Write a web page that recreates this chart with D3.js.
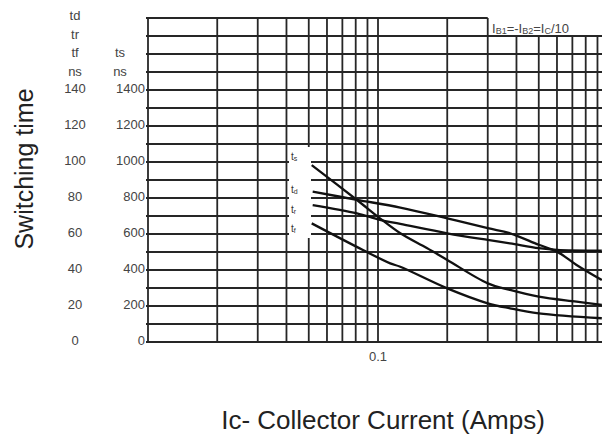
<!DOCTYPE html>
<html>
<head>
<meta charset="utf-8">
<script src="https://cdn.jsdelivr.net/npm/d3@7"></script>
<style>
  body { margin: 0; background: #fff; }
  svg { display: block; font-family: "Liberation Sans", Arial, sans-serif; }
  .grid { stroke: #262626; stroke-width: 1.8; }
  .curve { fill: none; stroke: #111; stroke-width: 2.3; }
  .tick { fill: #444; font-size: 13px; }
</style>
</head>
<body>
<div id="container"></div>
<script>
/* chart data */
var tdData = [[0.052, 83.5], [0.081, 79], [0.125, 74.7], [0.2, 68.7], [0.3, 63.2], [0.375, 60.4], [0.5, 54], [0.6, 50.2], [0.73, 42.8], [0.94, 34.4]]
var trData = [[0.052, 76.1], [0.081, 71.5], [0.102, 67.8], [0.125, 65.6], [0.2, 60.4], [0.3, 56.7], [0.375, 54.8], [0.5, 52.1], [0.6, 51.1], [0.94, 50.7]]
var tfData = [[0.0515, 65.9], [0.086, 51.1], [0.113, 43.7], [0.125, 41.8], [0.2, 29.8], [0.3, 21.5], [0.375, 18.7], [0.5, 15.9], [0.94, 13.2]]
var tsData = [[0.0515, 983], [0.081, 789], [0.102, 687], [0.125, 604], [0.163, 522], [0.2, 456], [0.3, 326], [0.375, 289], [0.5, 252], [0.73, 224], [0.94, 206]]

var xGrid = [0.02, 0.03, 0.04, 0.05, 0.06, 0.07, 0.08, 0.09, 0.1, 0.2, 0.3, 0.4, 0.5, 0.6, 0.7, 0.8, 0.9]
var xLabels = [0.1]
var leftTicks = [0, 20, 40, 60, 80, 100, 120, 140]
var rightTicks = [0, 200, 400, 600, 800, 1000, 1200, 1400]
var leftHeader = ["td", "tr", "tf", "ns"]
var rightHeader = ["ts", "ns"]

/* setup the dimensions */
var width = 602, height = 437
var plot = { left: 148, top: 18, bottom: 342, right: 608 }

var x = d3.scaleLog().domain([0.01, 1]).range([plot.left, plot.right])
var y = d3.scaleLinear().domain([0, 180]).range([plot.bottom, plot.top])
var yTs = d3.scaleLinear().domain([0, 1800]).range([plot.bottom, plot.top])

var svg = d3.select("#container")
            .append("svg")
            .attr("width", width)
            .attr("height", height)

/* horizontal grid, the top one stops at 0.3 */
var g = svg.append("g")
g.selectAll(".hgrid")
  .data(d3.range(0, 181, 10))
  .enter().append("line")
    .attr("class", "grid")
    .attr("x1", plot.left - 2)
    .attr("x2", function(d) { return d == 180 ? x(0.3) : width })
    .attr("y1", function(d) { return y(d) })
    .attr("y2", function(d) { return y(d) })

/* vertical grid, right of 0.3 the lines start one row lower */
g.selectAll(".vgrid")
  .data([0.01].concat(xGrid))
  .enter().append("line")
    .attr("class", "grid")
    .attr("x1", function(d) { return x(d) })
    .attr("x2", function(d) { return x(d) })
    .attr("y1", function(d) { return d > 0.3 ? y(170) : y(180) })
    .attr("y2", y(0))

/* white box behind the curve labels */
svg.append("rect")
   .attr("x", 289).attr("y", 147)
   .attr("width", 22).attr("height", 91)
   .attr("fill", "#fff")

/* the curves */
var line = d3.line()
             .x(function(d) { return x(d[0]) })
             .y(function(d) { return y(d[1]) })
             .curve(d3.curveCatmullRom)
var lineTs = d3.line()
               .x(function(d) { return x(d[0]) })
               .y(function(d) { return yTs(d[1]) })
               .curve(d3.curveCatmullRom)

svg.selectAll(".curve")
   .data([tdData, trData, tfData])
   .enter().append("path")
     .attr("class", "curve")
     .attr("d", line)
svg.append("path")
   .attr("class", "curve")
   .attr("d", lineTs(tsData))

/* curve labels */
var curveLabels = ["s", "d", "r", "f"]
var cl = svg.selectAll(".clabel")
   .data(curveLabels)
   .enter().append("text")
     .attr("x", 291)
     .attr("y", function(d, i) { return [160, 193, 213, 232][i] })
     .attr("fill", "#333")
     .attr("font-size", 10)
cl.append("tspan").text("t")
cl.append("tspan").attr("font-size", 7).attr("dy", 1).text(function(d) { return d })

/* left axis labels */
svg.selectAll(".lt")
   .data(leftTicks)
   .enter().append("text")
     .attr("class", "tick")
     .attr("x", 75)
     .attr("y", function(d) { return y(d) - 2 })
     .attr("dy", "0.35em")
     .attr("text-anchor", "middle")
     .text(function(d) { return d })
svg.selectAll(".rt")
   .data(rightTicks)
   .enter().append("text")
     .attr("class", "tick")
     .attr("x", 145)
     .attr("y", function(d) { return yTs(d) - 2 })
     .attr("dy", "0.35em")
     .attr("text-anchor", "end")
     .text(function(d) { return d })

svg.selectAll(".lh")
   .data(leftHeader)
   .enter().append("text")
     .attr("class", "tick")
     .attr("font-size", 11)
     .attr("x", 75)
     .attr("y", function(d, i) { return 20 + i * 18.5 })
     .attr("text-anchor", "middle")
     .text(function(d) { return d })
svg.selectAll(".rh")
   .data(rightHeader)
   .enter().append("text")
     .attr("class", "tick")
     .attr("font-size", 11)
     .attr("x", 120)
     .attr("y", function(d, i) { return 57 + i * 18.5 })
     .attr("text-anchor", "middle")
     .text(function(d) { return d })

/* x labels */
svg.selectAll(".xt")
   .data(xLabels)
   .enter().append("text")
     .attr("class", "tick")
     .attr("x", function(d) { return x(d) })
     .attr("y", 361)
     .attr("text-anchor", "middle")
     .text(function(d) { return d })

/* condition note */
var note = svg.append("text")
              .attr("x", 492).attr("y", 33)
              .attr("fill", "#444").attr("font-size", 13)
note.append("tspan").text("I")
note.append("tspan").attr("font-size", 9).attr("dy", 1).text("B1")
note.append("tspan").attr("dy", -1).text("=-I")
note.append("tspan").attr("font-size", 9).attr("dy", 1).text("B2")
note.append("tspan").attr("dy", -1).text("=I")
note.append("tspan").attr("font-size", 9).attr("dy", 1).text("C")
note.append("tspan").attr("dy", -1).text("/10")

/* titles */
svg.append("text")
   .attr("transform", "translate(33,169) rotate(-90)")
   .attr("text-anchor", "middle")
   .attr("fill", "#222")
   .attr("font-size", 25)
   .text("Switching time")
svg.append("text")
   .attr("x", 383)
   .attr("y", 429)
   .attr("text-anchor", "middle")
   .attr("fill", "#222")
   .attr("font-size", 26)
   .text("Ic- Collector Current (Amps)")
</script>
</body>
</html>
